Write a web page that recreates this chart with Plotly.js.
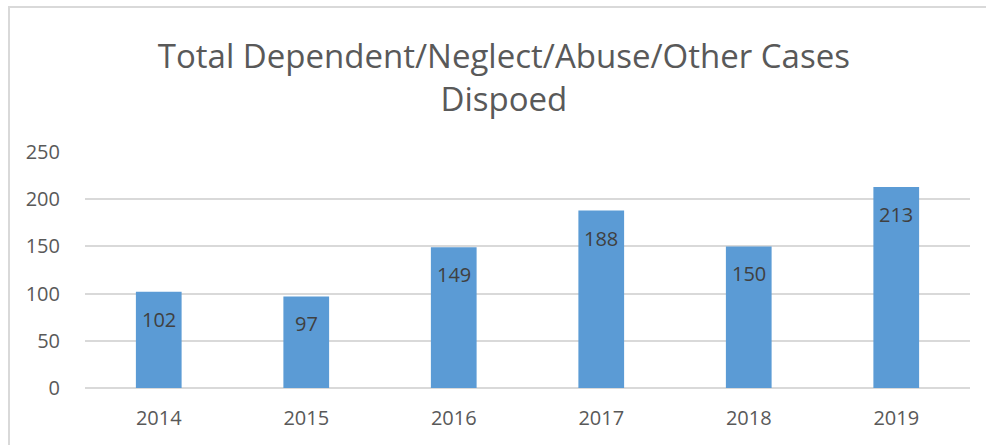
<!DOCTYPE html>
<html>
<head>
<meta charset="utf-8">
<script src="https://cdn.plot.ly/plotly-3.0.1.min.js"></script>
<style>
  html, body { margin: 0; padding: 0; background: #fff; }
  #wrap { position: relative; width: 986px; height: 445px; overflow: hidden; }
  #frame { position: absolute; left: 8px; top: 6px; width: 990px; height: 460px;
           border-left: 2px solid #d9d9d9; border-top: 2px solid #d9d9d9; pointer-events: none; }
</style>
</head>
<body>
<div id="wrap">
  <div id="chart" style="width:986px;height:445px"></div>
  <div id="frame"></div>
</div>
<script>
const years = ["2014", "2015", "2016", "2017", "2018", "2019"];
const cases = [102, 97, 149, 188, 150, 213];
const yTicks = [0, 50, 100, 150, 200, 250];
const chartTitle = "Total Dependent/Neglect/Abuse/Other Cases<br>Dispoed";

const FONT = "Open Sans, Noto Sans, sans-serif";

const trace = {
  type: "bar",
  x: years,
  y: cases,
  marker: { color: "#5b9bd5" }
};

const labels = years.map((yr, i) => ({
  x: i,
  y: cases[i],
  xref: "x",
  yref: "y",
  text: String(cases[i]),
  showarrow: false,
  yanchor: "top",
  yshift: -12,
  font: { family: FONT, size: 20, color: "#404040" }
}));

const layout = {
  width: 986,
  height: 445,
  margin: { l: 85, r: 16, t: 152, b: 57 },
  paper_bgcolor: "#ffffff",
  plot_bgcolor: "#ffffff",
  bargap: 0.69,
  showlegend: false,
  title: {
    text: chartTitle,
    font: { family: FONT, size: 33, color: "#595959" },
    x: 0.511,
    xanchor: "center",
    xref: "container",
    y: 0.848,
    yref: "container",
    yanchor: "bottom"
  },
  xaxis: {
    type: "category",
    tickfont: { family: FONT, size: 20, color: "#595959" },
    showgrid: false,
    showline: false,
    ticks: "outside",
    ticklen: 12,
    tickcolor: "rgba(0,0,0,0)",
    zeroline: false
  },
  yaxis: {
    range: [0, 250],
    tickvals: yTicks,
    ticktext: yTicks.map(String),
    tickfont: { family: FONT, size: 20, color: "#595959" },
    showgrid: true,
    gridcolor: "#d9d9d9",
    gridwidth: 2,
    zeroline: true,
    zerolinecolor: "#d9d9d9",
    zerolinewidth: 2,
    showline: false,
    ticks: "outside",
    ticklen: 20,
    tickcolor: "rgba(0,0,0,0)"
  },
  annotations: labels
};

Plotly.newPlot("chart", [trace], layout, { displayModeBar: false });
</script>
</body>
</html>
